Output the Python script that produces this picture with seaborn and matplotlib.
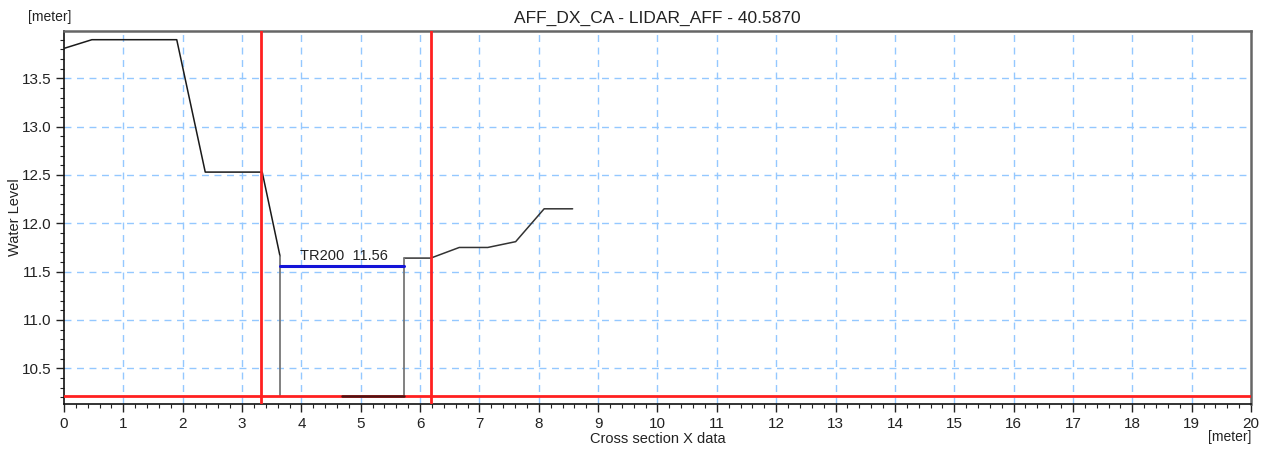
import matplotlib
matplotlib.use("Agg")
import matplotlib.pyplot as plt
from matplotlib.ticker import MultipleLocator
import seaborn as sns
import pandas as pd

sns.set_theme(style="white")
plt.rcParams["font.family"] = ["Liberation Sans", "DejaVu Sans"]

# Cross-section profile (bank to bank), split where the section opens up
left_x = [0.0, 0.47, 1.90, 2.38, 3.34, 3.64]
left_z = [13.81, 13.90, 13.90, 12.53, 12.53, 11.66]
bed_x = [4.69, 5.73]
bed_z = [10.21, 10.21]
right_x = [5.73, 6.18, 6.66, 7.14, 7.61, 8.09, 8.57]
right_z = [11.64, 11.64, 11.75, 11.75, 11.81, 12.15, 12.15]

# Vertical walls of the channel
wall_x = [3.64, 5.73]
wall_top = [11.66, 11.64]
wall_bottom = [10.21, 10.21]

# Water level
wl_name = "TR200"
wl_value = 11.56
wl_x = [3.64, 5.73]

# Markers
marker_x = [3.32, 6.19]
datum_z = 10.21

title = "AFF_DX_CA - LIDAR_AFF - 40.5870"
x_ticks = list(range(0, 21))
y_ticks = [10.5, 11.0, 11.5, 12.0, 12.5, 13.0, 13.5]

fig = plt.figure(figsize=(12.72, 4.5), dpi=100)
ax = fig.add_axes([0.0503, 0.1022, 0.9332, 0.8289])

grid_kw = dict(color="#94c8ff", linestyle=(0, (5, 4)), linewidth=1.0, zorder=0)
for xv in x_ticks[1:-1]:
    ax.axvline(xv, **grid_kw)
for yv in y_ticks:
    ax.axhline(yv, **grid_kw)

left_df = pd.DataFrame({"x": left_x, "z": left_z})
right_df = pd.DataFrame({"x": right_x, "z": right_z})
bed_df = pd.DataFrame({"x": bed_x, "z": bed_z})
sns.lineplot(data=left_df, x="x", y="z", sort=False, color="#1a1a1a", linewidth=1.1, ax=ax, zorder=3)
sns.lineplot(data=right_df, x="x", y="z", sort=False, color="#333333", linewidth=1.1, ax=ax, zorder=3)
sns.lineplot(data=bed_df, x="x", y="z", sort=False, color="#4a1414", linewidth=1.8, ax=ax, zorder=7)

for wx, wt, wb in zip(wall_x, wall_top, wall_bottom):
    ax.plot([wx, wx], [wb, wt], color="#777777", linewidth=1.3, zorder=3)

ax.plot(wl_x, [wl_value, wl_value], color="#1414d8", linewidth=2.2, zorder=5)
ax.text(3.98, wl_value + 0.025, f"{wl_name}  {wl_value:.2f}", fontsize=10.5,
        color="#222222", ha="left", va="bottom", zorder=6)

for mx in marker_x:
    ax.axvline(mx, color="#ff2020", linewidth=2.0, zorder=6)
ax.axhline(datum_z, color="#ff2020", linewidth=2.0, zorder=6)

ax.set_xlim(0, 20)
ax.set_ylim(10.13, 13.99)
ax.set_xticks(x_ticks)
ax.set_yticks(y_ticks)
ax.set_yticklabels([f"{v:.1f}" for v in y_ticks])
ax.xaxis.set_minor_locator(MultipleLocator(0.2))
ax.yaxis.set_minor_locator(MultipleLocator(0.1))
ax.tick_params(axis="both", which="major", direction="out", length=6, width=1,
               color="#222222", labelsize=11, labelcolor="#222222", pad=3,
               bottom=True, left=True)
ax.tick_params(axis="both", which="minor", direction="out", length=3, width=0.8,
               color="#222222", bottom=True, left=True)

ax.set_xlabel("Cross section X data", fontsize=10.5, color="#222222")
ax.set_ylabel("Water Level", fontsize=10.5, color="#222222")
ax.yaxis.set_label_coords(-0.0354, 0.5)
ax.xaxis.set_label_coords(0.5, -0.074)
ax.set_title(title, fontsize=12.5, color="#222222", pad=6)

for side in ["left", "bottom"]:
    ax.spines[side].set_color("#111111")
    ax.spines[side].set_linewidth(1.2)
for side in ["top", "right"]:
    ax.spines[side].set_color("#666666")
    ax.spines[side].set_linewidth(1.8)

fig.text(28 / 1272, 1 - 17 / 450, "[meter]", fontsize=10, color="#222222", ha="left", va="center")
fig.text(1251 / 1272, 1 - 437 / 450, "[meter]", fontsize=10, color="#222222", ha="right", va="center")

fig.savefig("out.png", dpi=100, facecolor="white")
